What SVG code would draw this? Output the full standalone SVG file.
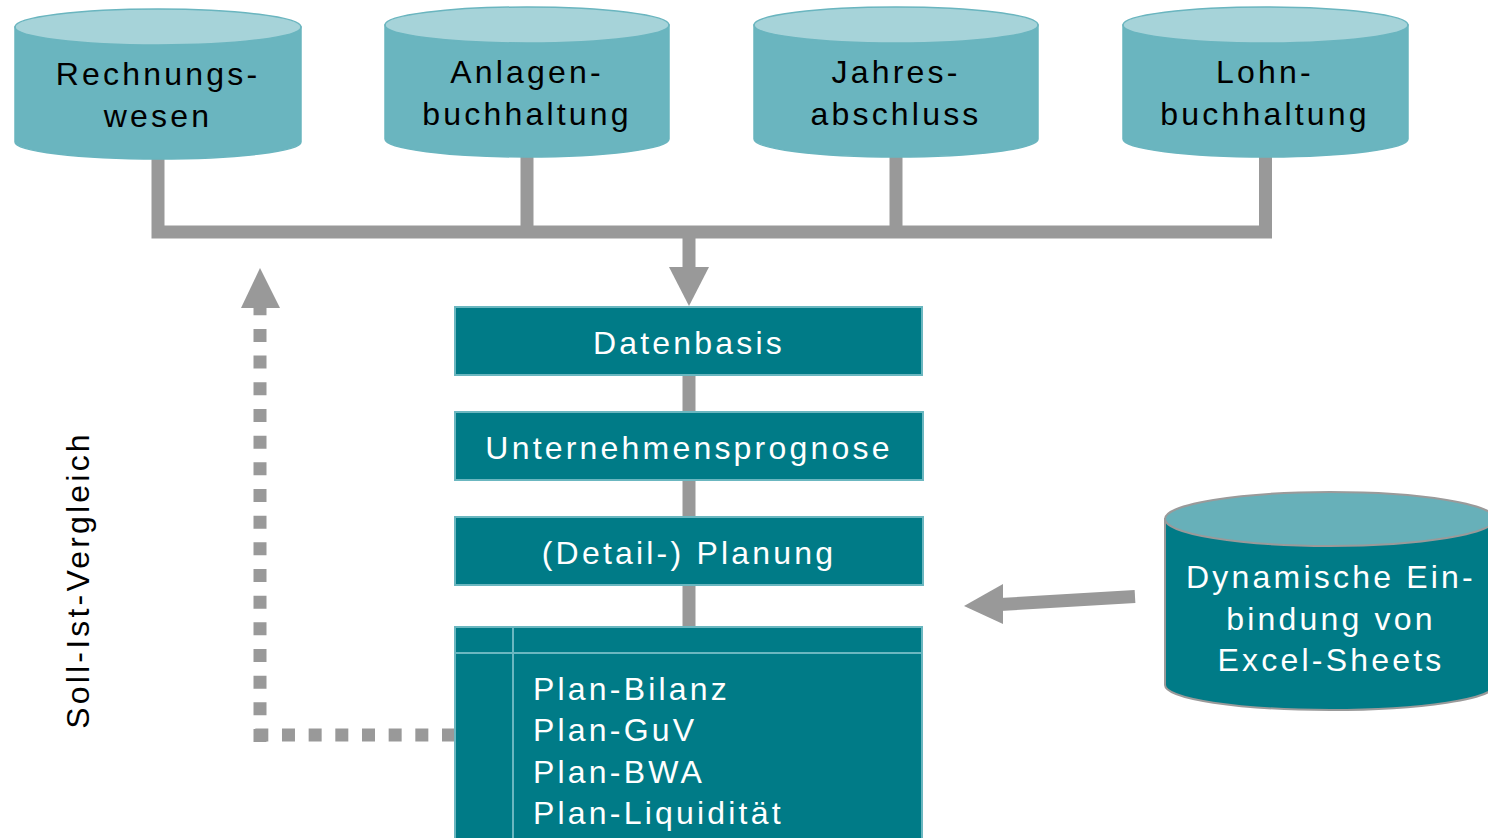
<svg xmlns="http://www.w3.org/2000/svg" width="1488" height="838" viewBox="0 0 1488 838">
<style>
.t{font-family:"Liberation Sans",Arial,sans-serif;font-size:32px;letter-spacing:3.2px;}
.blk{fill:#000;}
.wht{fill:#fff;}
.cbody{fill:#6AB5BF;stroke:#6AB5BF;stroke-width:1.5;}
.ctop{fill:#A6D3D9;stroke:#6AB5BF;stroke-width:1.5;}
.box{fill:#007B87;stroke:#6BB7C0;stroke-width:2;}
.con{stroke:#999999;stroke-width:13;fill:none;}
.dot{stroke:#999999;stroke-width:13;fill:none;stroke-dasharray:13 13.67;}
.head{fill:#999999;}
</style>
<rect width="1488" height="838" fill="#fff"/>
<g id="connectors">
<polyline class="con" points="158,150 158,232 1265.5,232 1265.5,150"/>
<line class="con" x1="527" y1="150" x2="527" y2="232"/>
<line class="con" x1="896" y1="150" x2="896" y2="232"/>
<line class="con" x1="689" y1="232" x2="689" y2="270"/>
<polygon class="head" points="669,267 709,267 689,306"/>
<line class="con" x1="689" y1="375" x2="689" y2="412"/>
<line class="con" x1="689" y1="480" x2="689" y2="517"/>
<line class="con" x1="689" y1="585" x2="689" y2="626"/>
<line class="con" x1="1135" y1="596.5" x2="1000" y2="604.5" stroke-width="14"/>
<polygon class="head" points="1003,584 1003,624 964,606"/>
<line class="dot" x1="455" y1="735" x2="253" y2="735"/>
<line class="dot" x1="260" y1="742" x2="260" y2="308"/>
<polygon class="head" points="241,308 280,308 260,268"/>
</g>
<g id="rechnungswesen">
<path class="cbody" d="M15,27 L15,142 A143,17 0 0 0 301,142 L301,27 Z"/>
<ellipse class="ctop" cx="158" cy="27" rx="143" ry="18"/>
<text class="t blk" x="158" y="85" text-anchor="middle">Rechnungs-</text>
<text class="t blk" x="158" y="127" text-anchor="middle">wesen</text>
</g>
<g id="anlagenbuchhaltung">
<path class="cbody" d="M385,25 L385,139 A142,18 0 0 0 669,139 L669,25 Z"/>
<ellipse class="ctop" cx="527" cy="25" rx="142" ry="18"/>
<text class="t blk" x="527" y="83" text-anchor="middle">Anlagen-</text>
<text class="t blk" x="527" y="125" text-anchor="middle">buchhaltung</text>
</g>
<g id="jahresabschluss">
<path class="cbody" d="M754,25 L754,139 A142,18 0 0 0 1038,139 L1038,25 Z"/>
<ellipse class="ctop" cx="896" cy="25" rx="142" ry="18"/>
<text class="t blk" x="896" y="83" text-anchor="middle">Jahres-</text>
<text class="t blk" x="896" y="125" text-anchor="middle">abschluss</text>
</g>
<g id="lohnbuchhaltung">
<path class="cbody" d="M1123,25 L1123,139 A142.5,18 0 0 0 1408,139 L1408,25 Z"/>
<ellipse class="ctop" cx="1265.5" cy="25" rx="142.5" ry="18"/>
<text class="t blk" x="1265" y="83" text-anchor="middle">Lohn-</text>
<text class="t blk" x="1265" y="125" text-anchor="middle">buchhaltung</text>
</g>
<g id="datenbasis">
<rect class="box" x="455" y="307" width="467" height="68"/>
<text class="t wht" x="689" y="354" text-anchor="middle">Datenbasis</text>
</g>
<g id="unternehmensprognose">
<rect class="box" x="455" y="412" width="468" height="68"/>
<text class="t wht" x="689" y="459" text-anchor="middle">Unternehmensprognose</text>
</g>
<g id="planung">
<rect class="box" x="455" y="517" width="468" height="68"/>
<text class="t wht" x="689" y="564" text-anchor="middle">(Detail-) Planung</text>
</g>
<g id="planwerte">
<rect class="box" x="455" y="627" width="467" height="240"/>
<line x1="455" y1="653" x2="922" y2="653" stroke="#6BB7C0" stroke-width="2"/>
<line x1="513" y1="627" x2="513" y2="838" stroke="#6BB7C0" stroke-width="2"/>
<text class="t wht" x="533" y="700">Plan-Bilanz</text>
<text class="t wht" x="533" y="741">Plan-GuV</text>
<text class="t wht" x="533" y="783">Plan-BWA</text>
<text class="t wht" x="533" y="824">Plan-Liquidität</text>
</g>
<g id="excel">
<path d="M1165,519 L1165,685 A165,25 0 0 0 1495,685 L1495,519 Z" fill="#007B87" stroke="#9A9A9A" stroke-width="2"/>
<ellipse cx="1330" cy="519" rx="165" ry="27" fill="#67B0B9" stroke="#9A9A9A" stroke-width="2"/>
<text class="t wht" x="1331" y="588" text-anchor="middle">Dynamische Ein-</text>
<text class="t wht" x="1331" y="630" text-anchor="middle">bindung von</text>
<text class="t wht" x="1331" y="671" text-anchor="middle">Excel-Sheets</text>
</g>
<g id="soll-ist">
<text class="t blk" transform="translate(89,580) rotate(-90)" x="0" y="0" text-anchor="middle">Soll-Ist-Vergleich</text>
</g>
</svg>
